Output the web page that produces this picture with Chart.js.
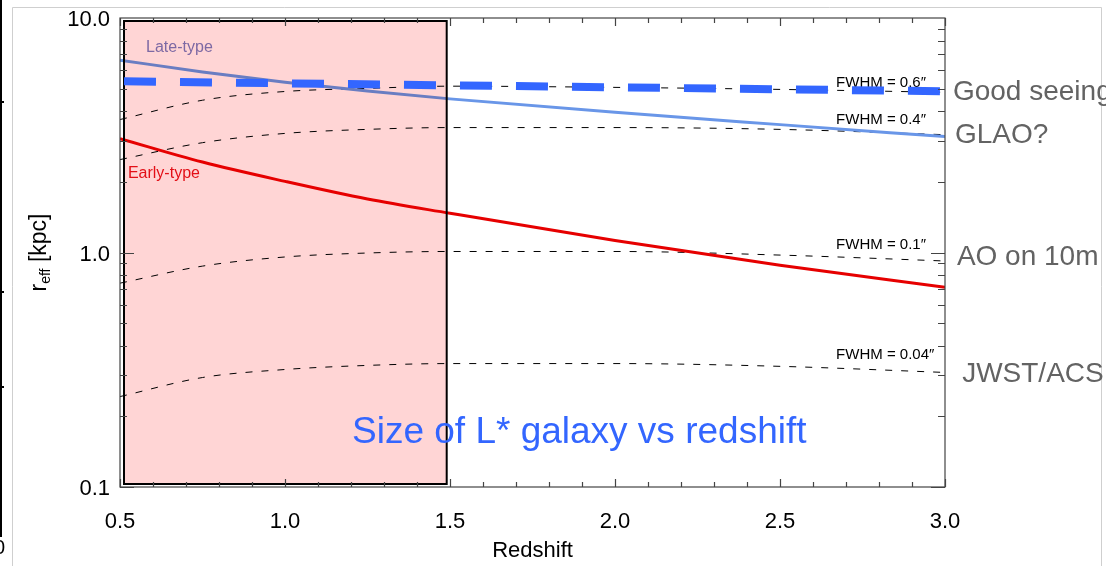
<!DOCTYPE html>
<html>
<head>
<meta charset="utf-8">
<title>Size of L* galaxy vs redshift</title>
<script src="https://cdn.jsdelivr.net/npm/chart.js@4.4.0/dist/chart.umd.min.js"></script>
<style>
    html, body { margin: 0; padding: 0; background: #fff; }
    #wrap { width: 1106px; height: 566px; }
</style>
</head>
<body>
<div id="wrap"><canvas id="sizeChart" width="1106" height="566"></canvas></div>
<script>
// redshift grid the curves are sampled on
var redshift = [0.5, 0.75, 1.0, 1.25, 1.5, 2.0, 2.5, 3.0];

// effective radius of an L* galaxy [kpc]
var lateType = [6.61, 5.89, 5.32, 4.88, 4.52, 3.96, 3.51, 3.12];
var earlyType = [3.06, 2.43, 2.01, 1.69, 1.47, 1.125, 0.883, 0.71];

// physical size of a given FWHM [kpc]
var fwhm06 = [3.69, 4.46, 4.86, 5.01, 5.12, 5.06, 4.96, 4.82];
var fwhm04 = [2.49, 2.94, 3.22, 3.35, 3.41, 3.41, 3.35, 3.18];
var fwhm01 = [0.74, 0.875, 0.957, 0.995, 1.01, 1.01, 0.975, 0.92];
var fwhm004 = [0.243, 0.293, 0.317, 0.330, 0.336, 0.336, 0.327, 0.308];

// good seeing limit
var seeingZ = [0.5, 3.0];
var seeing = [5.37, 4.87];

// shaded redshift range
var shadeRange = [0.5, 1.49];

var yTickValues = [0.1, 1, 10];
var xTickStep = 0.5;

var FONT = "'Liberation Sans', Arial, Helvetica, sans-serif";

function pts(xs, ys) {
    var out = [];
    for (var i = 0; i < xs.length; i++) {
        out.push({x: xs[i], y: ys[i]});
    }
    return out;
}

// text placed in data coordinates: [text, z, r, size, colour]
var lineLabels = [
    ['Late-type', 0.579, 7.45, 16, '#7d7dc4'],
    ['Early-type', 0.524, 2.18, 16, '#e3121b'],
    ['FWHM = 0.6\u2033', 2.67, 5.28, 15, '#000'],
    ['FWHM = 0.4\u2033', 2.67, 3.67, 15, '#000'],
    ['FWHM = 0.1\u2033', 2.67, 1.08, 15, '#000'],
    ['FWHM = 0.04\u2033', 2.67, 0.366, 15, '#000']
];
var sideLabels = [
    ['Good seeing', 3.024, 4.83],
    ['GLAO?', 3.03, 3.17],
    ['AO on 10m', 3.036, 0.957],
    ['JWST/ACS', 3.052, 0.303]
];

function drawLabel(ctx, chart, txt, z, r, font, color) {
    ctx.font = font;
    ctx.fillStyle = color;
    ctx.textAlign = 'left';
    ctx.textBaseline = 'middle';
    ctx.fillText(txt, chart.scales.x.getPixelForValue(z), chart.scales.y.getPixelForValue(r));
}

var framePlugin = {
    id: 'frame',
    beforeDraw: function (chart) {
        var ctx = chart.ctx;
        ctx.save();
        // slide border
        ctx.strokeStyle = '#cfcfcf';
        ctx.lineWidth = 1;
        ctx.beginPath();
        ctx.moveTo(12.5, 566);
        ctx.lineTo(12.5, 7.5);
        ctx.lineTo(1101.5, 7.5);
        ctx.lineTo(1101.5, 566);
        ctx.stroke();
        // edge of the neighbouring panel
        ctx.strokeStyle = '#000';
        ctx.lineWidth = 2;
        ctx.beginPath();
        ctx.moveTo(1, 0);
        ctx.lineTo(1, 537);
        [102, 292, 387].forEach(function (y) {
            ctx.moveTo(0, y);
            ctx.lineTo(4, y);
        });
        ctx.stroke();
        ctx.font = '20px ' + FONT;
        ctx.fillStyle = '#000';
        ctx.textAlign = 'right';
        ctx.textBaseline = 'middle';
        ctx.fillText('0', 5, 548);
        ctx.restore();
    },
    beforeDatasetDraw: function (chart, args) {
        if (args.index !== 0) {
            return;
        }
        var ctx = chart.ctx;
        var a = chart.chartArea;
        var xs = chart.scales.x;
        ctx.save();
        lineLabels.forEach(function (l) {
            drawLabel(ctx, chart, l[0], l[1], l[2], l[3] + 'px ' + FONT, l[4]);
        });
        // shaded redshift range, multiplied over the curves
        var x0 = xs.getPixelForValue(shadeRange[0]) + 4;
        var x1 = xs.getPixelForValue(shadeRange[1]);
        var y0 = a.top + 3;
        var y1 = a.bottom - 3;
        ctx.globalCompositeOperation = 'multiply';
        ctx.fillStyle = '#ffd5d5';
        ctx.fillRect(x0, y0, x1 - x0, y1 - y0);
        ctx.globalCompositeOperation = 'source-over';
        ctx.strokeStyle = '#000';
        ctx.lineWidth = 2;
        ctx.strokeRect(x0, y0, x1 - x0, y1 - y0);
        ctx.restore();
    },
    afterDraw: function (chart) {
        var ctx = chart.ctx;
        var a = chart.chartArea;
        var xs = chart.scales.x;
        var ys = chart.scales.y;
        ctx.save();
        ctx.strokeStyle = '#444';
        ctx.lineWidth = 1.2;
        ctx.strokeRect(a.left, a.top, a.right - a.left, a.bottom - a.top);

        ctx.beginPath();
        // x ticks, inward on bottom and top
        for (var i = 0; i <= 25; i++) {
            var px = Math.round(xs.getPixelForValue(0.5 + i * 0.1)) + 0.5;
            var len = (i % 5 === 0) ? 8 : 5;
            ctx.moveTo(px, a.bottom);
            ctx.lineTo(px, a.bottom - len);
            ctx.moveTo(px, a.top);
            ctx.lineTo(px, a.top + len);
        }
        // log y ticks, inward on left and right
        [0.1, 1].forEach(function (d) {
            for (var m = 1; m <= 9; m++) {
                var py = Math.round(ys.getPixelForValue(d * m)) + 0.5;
                var l = (m === 1) ? 14 : 7;
                ctx.moveTo(a.left, py);
                ctx.lineTo(a.left + l, py);
                ctx.moveTo(a.right, py);
                ctx.lineTo(a.right - l, py);
            }
        });
        ctx.stroke();

        // y title: r_eff [kpc]
        ctx.translate(38, (a.top + a.bottom) / 2);
        ctx.rotate(-Math.PI / 2);
        ctx.fillStyle = '#000';
        ctx.textBaseline = 'alphabetic';
        ctx.textAlign = 'left';
        var big = '23px ' + FONT;
        var small = '14px ' + FONT;
        ctx.font = big;
        var w1 = ctx.measureText('r').width;
        var w3 = ctx.measureText(' [kpc]').width;
        ctx.font = small;
        var w2 = ctx.measureText('eff').width;
        var x = -(w1 + w2 + w3) / 2;
        ctx.font = big;
        ctx.fillText('r', x, 8);
        ctx.font = small;
        ctx.fillText('eff', x + w1, 12);
        ctx.font = big;
        ctx.fillText(' [kpc]', x + w1 + w2, 8);
        ctx.restore();

        ctx.save();
        sideLabels.forEach(function (l) {
            drawLabel(ctx, chart, l[0], l[1], l[2], '28px ' + FONT, '#636363');
        });
        drawLabel(ctx, chart, 'Size of L* galaxy vs redshift', 1.203, 0.170, '37px ' + FONT, '#3366ff');
        ctx.restore();
    }
};

function fwhmSet(data) {
    return {
        data: pts(redshift, data),
        borderColor: '#000',
        borderWidth: 1,
        borderDash: [7, 9],
        pointRadius: 0,
        cubicInterpolationMode: 'monotone',
        order: 1
    };
}

var ctx = document.getElementById('sizeChart');
var sizeChart = new Chart(ctx, {
    type: 'line',
    data: {
        datasets: [{
                label: 'Good seeing',
                data: pts(seeingZ, seeing),
                borderColor: '#3366ff',
                borderWidth: 8,
                borderDash: [32, 24],
                borderDashOffset: -4,
                borderCapStyle: 'butt',
                pointRadius: 0,
                order: 0
            }, {
                label: 'Late-type',
                data: pts(redshift, lateType),
                borderColor: 'rgb(105,150,232)',
                borderWidth: 3,
                pointRadius: 0,
                cubicInterpolationMode: 'monotone',
                order: 1
            }, {
                label: 'Early-type',
                data: pts(redshift, earlyType),
                borderColor: '#e60000',
                borderWidth: 3,
                pointRadius: 0,
                cubicInterpolationMode: 'monotone',
                order: 1
            },
            fwhmSet(fwhm06),
            fwhmSet(fwhm04),
            fwhmSet(fwhm01),
            fwhmSet(fwhm004)
        ]
    },
    options: {
        responsive: false,
        animation: false,
        layout: {padding: {left: 0, top: 18, right: 161, bottom: 0}},
        plugins: {
            legend: {display: false},
            tooltip: {enabled: false}
        },
        scales: {
            x: {
                type: 'linear',
                min: 0.5,
                max: 3.0,
                grid: {display: false, drawTicks: false},
                border: {display: false},
                ticks: {
                    stepSize: xTickStep,
                    padding: 22,
                    color: '#000',
                    maxRotation: 0,
                    autoSkip: false,
                    font: {family: FONT, size: 22},
                    callback: function (v) {
                        return Number(v).toFixed(1);
                    }
                },
                title: {
                    display: true,
                    text: 'Redshift',
                    color: '#000',
                    font: {family: FONT, size: 22},
                    padding: {top: 0, bottom: 2}
                },
                afterFit: function (s) {
                    s.height = 79;
                    s.paddingLeft = 0;
                }
            },
            y: {
                type: 'logarithmic',
                min: 0.1,
                max: 10,
                grid: {display: false, drawTicks: false},
                border: {display: false},
                ticks: {
                    padding: 10,
                    labelOffset: 2,
                    color: '#000',
                    font: {family: FONT, size: 22},
                    callback: function (v) {
                        return Number(v).toFixed(1);
                    }
                },
                afterBuildTicks: function (s) {
                    s.ticks = yTickValues.map(function (v) {
                        return {value: v};
                    });
                },
                afterFit: function (s) {
                    s.width = 120;
                    s.paddingTop = 0;
                    s.paddingBottom = 0;
                }
            }
        }
    },
    plugins: [framePlugin]
});
</script>
</body>
</html>
